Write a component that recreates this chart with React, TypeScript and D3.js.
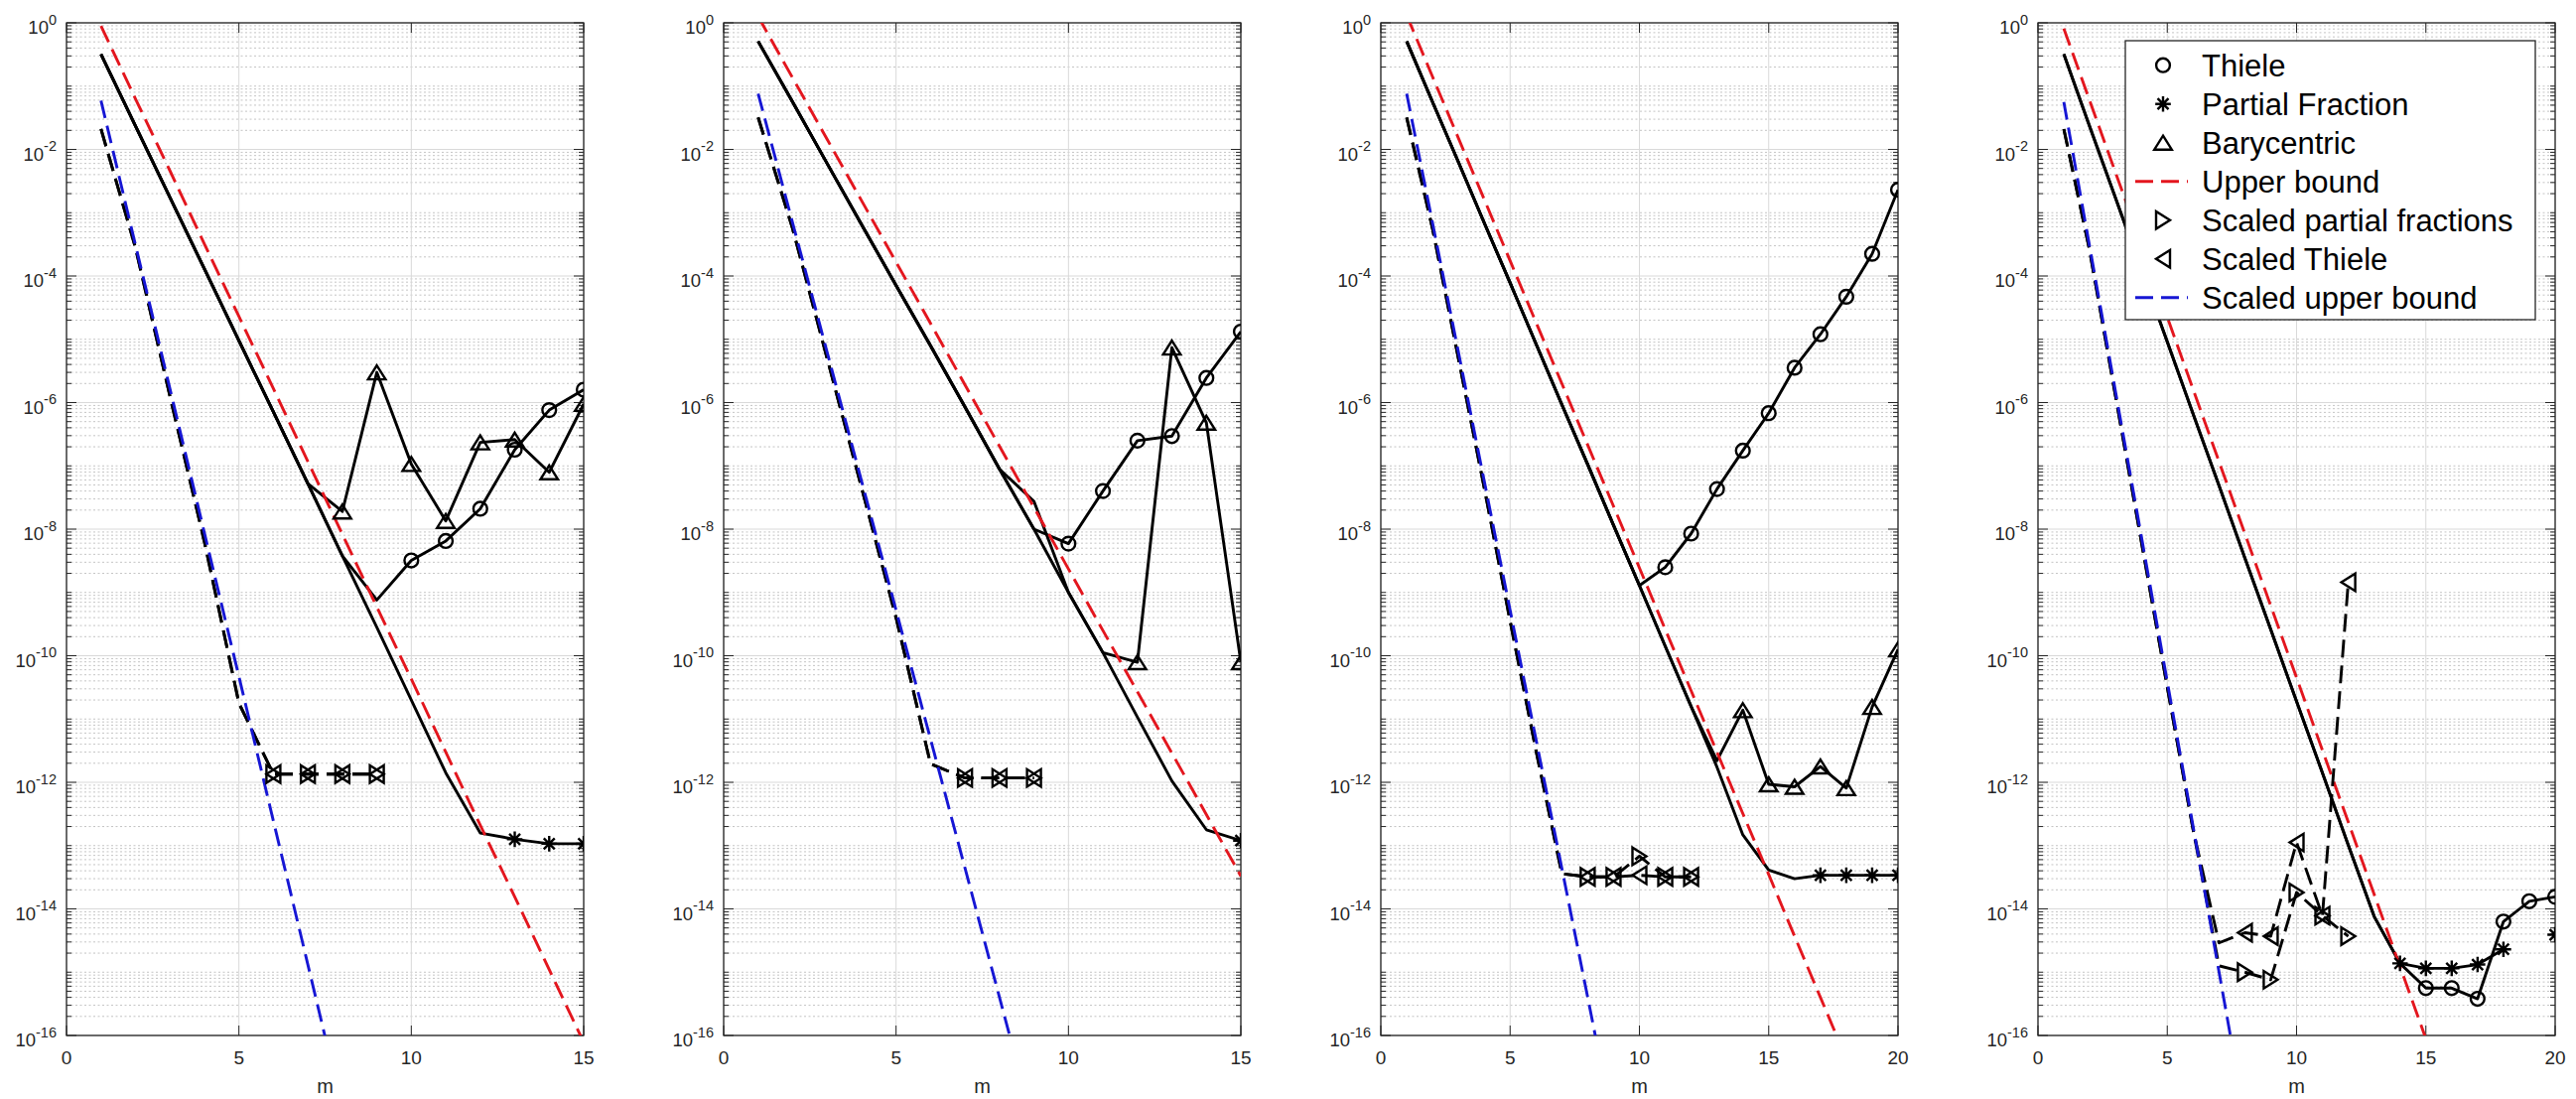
import { useEffect, useRef } from "react"
import * as d3 from "d3"

type Val = number | null

// Values; index k holds m = k + 1.
// Panel 1
const p1Partial: Val[] = [3.2e-1, 2.34e-2, 1.74e-3, 1.29e-4, 9.5e-6, 7.1e-7, 5.25e-8, 3.8e-9, 2.82e-10, 2.0e-11, 1.41e-12, 1.58e-13, 1.26e-13, 1.07e-13, 1.07e-13]
const p1Thiele: Val[] = [3.2e-1, 2.34e-2, 1.74e-3, 1.29e-4, 9.5e-6, 7.1e-7, 5.25e-8, 3.8e-9, 7.6e-10, 3.2e-9, 6.5e-9, 2.1e-8, 1.8e-7, 7.6e-7, 1.6e-6]
const p1Bary: Val[] = [3.2e-1, 2.34e-2, 1.74e-3, 1.29e-4, 9.5e-6, 7.1e-7, 5.25e-8, 1.9e-8, 3.0e-6, 1.07e-7, 1.35e-8, 2.35e-7, 2.6e-7, 7.9e-8, 9.5e-7]
const p1Upper: Val[] = [8.9e-1, 6.3e-2, 4.6e-3, 3.2e-4, 2.3e-5, 1.66e-6, 1.17e-7, 8.3e-9, 5.9e-10, 4.3e-11, 3.0e-12, 2.1e-13, 1.55e-14, 1.1e-15, 7.8e-17]
const p1ScaledPartial: Val[] = [2.1e-2, 2.8e-4, 1.26e-6, 6.3e-9, 1.78e-11, 1.35e-12, 1.35e-12, 1.35e-12, 1.35e-12]
const p1ScaledThiele: Val[] = [2.1e-2, 2.8e-4, 1.26e-6, 6.3e-9, 1.78e-11, 1.35e-12, 1.35e-12, 1.35e-12, 1.35e-12]
const p1ScaledUpper: Val[] = [5.9e-2, 3.1e-4, 1.66e-6, 8.7e-9, 4.7e-11, 2.45e-13, 1.32e-15, 6.9e-18]
const p1MarkFrom = [10, 13, 8, 6] // thiele, partial, bary, scaled

// Panel 2
const p2Partial: Val[] = [5.1e-1, 5.6e-2, 6.0e-3, 6.5e-4, 7.1e-5, 7.9e-6, 8.5e-7, 8.9e-8, 1.0e-8, 1.0e-9, 1.12e-10, 1.07e-11, 1.05e-12, 1.78e-13, 1.2e-13]
const p2Thiele: Val[] = [5.1e-1, 5.6e-2, 6.0e-3, 6.5e-4, 7.1e-5, 7.9e-6, 8.5e-7, 8.9e-8, 1.0e-8, 5.9e-9, 4.0e-8, 2.5e-7, 2.95e-7, 2.45e-6, 1.32e-5]
const p2Bary: Val[] = [5.1e-1, 5.6e-2, 6.0e-3, 6.5e-4, 7.1e-5, 7.9e-6, 8.5e-7, 8.9e-8, 2.75e-8, 1.0e-9, 1.12e-10, 7.9e-11, 7.4e-6, 4.8e-7, 7.9e-11]
const p2Upper: Val[] = [1.26, 1.35e-1, 1.45e-2, 1.55e-3, 1.66e-4, 1.78e-5, 1.9e-6, 2.04e-7, 2.2e-8, 2.35e-9, 2.5e-10, 2.7e-11, 2.9e-12, 3.1e-13, 3.3e-14]
const p2ScaledPartial: Val[] = [3.2e-2, 5.6e-4, 5.0e-6, 4.5e-8, 4.0e-10, 1.95e-12, 1.17e-12, 1.17e-12, 1.17e-12]
const p2ScaledThiele: Val[] = [3.2e-2, 5.6e-4, 5.0e-6, 4.5e-8, 4.0e-10, 1.95e-12, 1.17e-12, 1.17e-12, 1.17e-12]
const p2ScaledUpper: Val[] = [7.6e-2, 6.9e-4, 6.3e-6, 5.75e-8, 5.25e-10, 4.8e-12, 4.4e-14, 4.0e-16, 3.6e-18]
const p2MarkFrom = [10, 15, 12, 7]

// Panel 3
const p3Partial: Val[] = [5.1e-1, 5.6e-2, 6.3e-3, 6.9e-4, 7.8e-5, 8.5e-6, 9.3e-7, 1.05e-7, 1.15e-8, 1.29e-9, 1.41e-10, 1.58e-11, 1.74e-12, 1.48e-13, 4.1e-14, 3.0e-14, 3.4e-14, 3.4e-14, 3.4e-14, 3.4e-14]
const p3Thiele: Val[] = [5.1e-1, 5.6e-2, 6.3e-3, 6.9e-4, 7.8e-5, 8.5e-6, 9.3e-7, 1.05e-7, 1.15e-8, 1.29e-9, 2.5e-9, 8.5e-9, 4.3e-8, 1.74e-7, 6.8e-7, 3.55e-6, 1.2e-5, 4.7e-5, 2.24e-4, 2.3e-3]
const p3Bary: Val[] = [5.1e-1, 5.6e-2, 6.3e-3, 6.9e-4, 7.8e-5, 8.5e-6, 9.3e-7, 1.05e-7, 1.15e-8, 1.29e-9, 1.41e-10, 1.58e-11, 2.2e-12, 1.38e-11, 9.3e-13, 8.5e-13, 1.78e-12, 8.1e-13, 1.55e-11, 1.26e-10]
const p3Upper: Val[] = [1.32, 1.41e-1, 1.51e-2, 1.62e-3, 1.74e-4, 1.86e-5, 2.0e-6, 2.14e-7, 2.3e-8, 2.45e-9, 2.6e-10, 2.8e-11, 3.0e-12, 3.2e-13, 3.5e-14, 3.7e-15, 4.0e-16, 4.3e-17, 4.6e-18]
const p3ScaledPartial: Val[] = [3.2e-2, 5.6e-4, 5.0e-6, 4.5e-8, 3.55e-10, 3.2e-12, 3.6e-14, 3.2e-14, 3.2e-14, 6.8e-14, 3.2e-14, 3.2e-14]
const p3ScaledThiele: Val[] = [3.2e-2, 5.6e-4, 5.0e-6, 4.5e-8, 3.55e-10, 3.2e-12, 3.6e-14, 3.2e-14, 3.2e-14, 3.4e-14, 3.2e-14, 3.2e-14]
const p3ScaledUpper: Val[] = [7.6e-2, 6.9e-4, 6.3e-6, 5.75e-8, 5.25e-10, 4.8e-12, 4.4e-14, 4.0e-16, 3.6e-18]
const p3MarkFrom = [11, 17, 14, 8]

// Panel 4 (no barycentric run; partial fraction missing at m = 19)
const p4Partial: Val[] = [3.2e-1, 2.3e-2, 1.7e-3, 1.23e-4, 9.1e-6, 6.6e-7, 4.9e-8, 3.5e-9, 2.6e-10, 1.9e-11, 1.41e-12, 1.02e-13, 7.6e-15, 1.38e-15, 1.15e-15, 1.15e-15, 1.32e-15, 2.3e-15, null, 3.9e-15]
const p4Thiele: Val[] = [3.2e-1, 2.3e-2, 1.7e-3, 1.23e-4, 9.1e-6, 6.6e-7, 4.9e-8, 3.5e-9, 2.6e-10, 1.9e-11, 1.41e-12, 1.02e-13, 7.6e-15, 1.38e-15, 5.6e-16, 5.6e-16, 3.8e-16, 6.3e-15, 1.32e-14, 1.55e-14]
const p4Bary: Val[] = []
const p4Upper: Val[] = [8.1e-1, 5.9e-2, 4.3e-3, 3.1e-4, 2.24e-5, 1.62e-6, 1.17e-7, 8.5e-9, 6.2e-10, 4.5e-11, 3.2e-12, 2.35e-13, 1.7e-14, 1.23e-15, 8.9e-17, 6.5e-18]
const p4ScaledPartial: Val[] = [2.1e-2, 2.5e-4, 1.26e-6, 6.3e-9, 3.2e-11, 1.78e-13, 1.26e-15, 1.0e-15, 7.6e-16, 1.82e-14, 7.8e-15, 3.7e-15]
const p4ScaledThiele: Val[] = [2.1e-2, 2.5e-4, 1.26e-6, 6.3e-9, 3.2e-11, 1.78e-13, 2.9e-15, 4.2e-15, 3.7e-15, 1.12e-13, 7.8e-15, 1.45e-9]
const p4ScaledUpper: Val[] = [5.6e-2, 2.9e-4, 1.48e-6, 7.6e-9, 3.9e-11, 2.0e-13, 1.02e-15, 5.2e-18]
const p4MarkFrom = [15, 14, 99, 8]

const xTicks15 = [0, 5, 10, 15]
const xTicks20 = [0, 5, 10, 15, 20]
const legendLabels = ["Thiele", "Partial Fraction", "Barycentric", "Upper bound", "Scaled partial fractions", "Scaled Thiele", "Scaled upper bound"]

const panels = [
  { xMax: 15, xTicks: xTicks15, thiele: p1Thiele, partial: p1Partial, bary: p1Bary, upper: p1Upper, sPartial: p1ScaledPartial, sThiele: p1ScaledThiele, sUpper: p1ScaledUpper, from: p1MarkFrom },
  { xMax: 15, xTicks: xTicks15, thiele: p2Thiele, partial: p2Partial, bary: p2Bary, upper: p2Upper, sPartial: p2ScaledPartial, sThiele: p2ScaledThiele, sUpper: p2ScaledUpper, from: p2MarkFrom },
  { xMax: 20, xTicks: xTicks20, thiele: p3Thiele, partial: p3Partial, bary: p3Bary, upper: p3Upper, sPartial: p3ScaledPartial, sThiele: p3ScaledThiele, sUpper: p3ScaledUpper, from: p3MarkFrom },
  { xMax: 20, xTicks: xTicks20, thiele: p4Thiele, partial: p4Partial, bary: p4Bary, upper: p4Upper, sPartial: p4ScaledPartial, sThiele: p4ScaledThiele, sUpper: p4ScaledUpper, from: p4MarkFrom },
]

const W = 2595
const H = 1107
const LEFTS = [67, 729, 1391, 2053]
const PW = 521
const TOP = 23
const BOTTOM = 1043
const FONT = "'Liberation Sans', Arial, Helvetica, sans-serif"
const INK = "#262626"
const RED = "#e3161e"
const BLUE = "#1616d4"
const DASH = "18,8"
const LW = 2.9
const MW = 2.4

const shapes: Record<string, string> = {
  circle: "M6.9,0A6.9,6.9 0 1,1 -6.9,0A6.9,6.9 0 1,1 6.9,0Z",
  star: "M0,-7.8V7.8M-7.8,0H7.8M-5.5,-5.5L5.5,5.5M-5.5,5.5L5.5,-5.5",
  tri: "M0,-7L8.8,7L-8.8,7Z",
  right: "M7,0L-7,-8.8L-7,8.8Z",
  left: "M-7,0L7,-8.8L7,8.8Z",
}

type Sel = d3.Selection<any, unknown, null, undefined>

function isMajor(v: number) {
  const e = Math.log10(v)
  const r = Math.round(e)
  return Math.abs(e - r) < 1e-6 && r % 2 === 0
}

function drawPanel(svg: Sel, p: (typeof panels)[number], i: number) {
  const x0 = LEFTS[i]
  const x = d3.scaleLinear().domain([0, p.xMax]).range([x0, x0 + PW])
  const y = d3.scaleLog().domain([1e-16, 1]).range([BOTTOM, TOP])
  const g = svg.append("g")

  const all = y.ticks(20)
  const majors = all.filter(isMajor)
  const minors = all.filter((v) => !isMajor(v))

  // grid
  g.append("g")
    .selectAll("line")
    .data(minors)
    .join("line")
    .attr("x1", x0)
    .attr("x2", x0 + PW)
    .attr("y1", (d) => y(d))
    .attr("y2", (d) => y(d))
    .attr("stroke", "#c4c4c4")
    .attr("stroke-width", 1)
    .attr("stroke-dasharray", "2,2.5")
  g.append("g")
    .selectAll("line")
    .data(majors)
    .join("line")
    .attr("x1", x0)
    .attr("x2", x0 + PW)
    .attr("y1", (d) => y(d))
    .attr("y2", (d) => y(d))
    .attr("stroke", "#d9d9d9")
    .attr("stroke-width", 1)
  g.append("g")
    .selectAll("line")
    .data(p.xTicks)
    .join("line")
    .attr("x1", (d) => x(d))
    .attr("x2", (d) => x(d))
    .attr("y1", TOP)
    .attr("y2", BOTTOM)
    .attr("stroke", "#d9d9d9")
    .attr("stroke-width", 1)

  // ticks
  const yt = g.append("g").attr("stroke", INK).attr("stroke-width", 1)
  const yTicks = all.map((v) => ({ v, len: isMajor(v) ? 10 : 5 }))
  yt.selectAll(".tl")
    .data(yTicks)
    .join("line")
    .attr("x1", x0)
    .attr("x2", (d) => x0 + d.len)
    .attr("y1", (d) => y(d.v))
    .attr("y2", (d) => y(d.v))
  yt.selectAll(".tr")
    .data(yTicks)
    .join("line")
    .attr("x1", x0 + PW)
    .attr("x2", (d) => x0 + PW - d.len)
    .attr("y1", (d) => y(d.v))
    .attr("y2", (d) => y(d.v))
  yt.selectAll(".tb")
    .data(p.xTicks)
    .join("line")
    .attr("x1", (d) => x(d))
    .attr("x2", (d) => x(d))
    .attr("y1", BOTTOM)
    .attr("y2", BOTTOM - 10)
  yt.selectAll(".tt")
    .data(p.xTicks)
    .join("line")
    .attr("x1", (d) => x(d))
    .attr("x2", (d) => x(d))
    .attr("y1", TOP)
    .attr("y2", TOP + 10)

  // box
  g.append("rect")
    .attr("x", x0)
    .attr("y", TOP)
    .attr("width", PW)
    .attr("height", BOTTOM - TOP)
    .attr("fill", "none")
    .attr("stroke", INK)
    .attr("stroke-width", 1.3)

  // tick labels
  g.append("g")
    .selectAll("text")
    .data(majors)
    .join("text")
    .attr("x", x0 - 10)
    .attr("y", (d) => y(d) + 11)
    .attr("text-anchor", "end")
    .style("font-family", FONT)
    .style("font-size", "18.5px")
    .attr("fill", INK)
    .each(function (d) {
      const t = d3.select(this)
      t.append("tspan").text("10")
      t.append("tspan")
        .attr("dy", -9.5)
        .style("font-size", "14.5px")
        .text(String(Math.round(Math.log10(d))))
    })
  g.append("g")
    .selectAll("text")
    .data(p.xTicks)
    .join("text")
    .attr("x", (d) => x(d))
    .attr("y", 1072)
    .attr("text-anchor", "middle")
    .style("font-family", FONT)
    .style("font-size", "19px")
    .attr("fill", INK)
    .text((d) => String(d))
  g.append("text")
    .attr("x", x0 + PW / 2)
    .attr("y", 1101)
    .attr("text-anchor", "middle")
    .style("font-family", FONT)
    .style("font-size", "20px")
    .attr("fill", INK)
    .text("m")

  // data
  const clipId = `clip-${i}`
  svg
    .append("clipPath")
    .attr("id", clipId)
    .append("rect")
    .attr("x", x0)
    .attr("y", TOP)
    .attr("width", PW)
    .attr("height", BOTTOM - TOP)
  const data = g.append("g").attr("clip-path", `url(#${clipId})`)

  const pts = (arr: Val[]) => arr.map((v, k) => ({ m: k + 1, v }))
  const line = d3
    .line<{ m: number; v: Val }>()
    .defined((d) => d.v != null)
    .x((d) => x(d.m))
    .y((d) => y(d.v as number))

  const drawLine = (arr: Val[], color: string, dashed: boolean) => {
    if (!arr.length) return
    data
      .append("path")
      .attr("d", line(pts(arr)))
      .attr("fill", "none")
      .attr("stroke", color)
      .attr("stroke-width", LW)
      .attr("stroke-linejoin", "round")
      .attr("stroke-dasharray", dashed ? DASH : null)
  }
  const drawMarks = (arr: Val[], from: number, shape: string) => {
    data
      .append("g")
      .selectAll("path")
      .data(pts(arr).filter((d) => d.v != null && d.m >= from))
      .join("path")
      .attr("transform", (d) => `translate(${x(d.m)},${y(d.v as number)})`)
      .attr("d", shapes[shape])
      .attr("fill", "none")
      .attr("stroke", "#000")
      .attr("stroke-width", MW)
  }

  drawLine(p.thiele, "#000", false)
  drawLine(p.partial, "#000", false)
  drawLine(p.bary, "#000", false)
  drawLine(p.upper, RED, true)
  drawLine(p.sPartial, "#000", true)
  drawLine(p.sThiele, "#000", true)
  drawLine(p.sUpper, BLUE, true)

  drawMarks(p.thiele, p.from[0], "circle")
  drawMarks(p.partial, p.from[1], "star")
  drawMarks(p.bary, p.from[2], "tri")
  drawMarks(p.sPartial, p.from[3], "right")
  drawMarks(p.sThiele, p.from[3], "left")
}

function drawLegend(svg: Sel) {
  const lx = 2141
  const ly = 41
  const g = svg.append("g")
  g.append("rect")
    .attr("x", lx)
    .attr("y", ly)
    .attr("width", 413)
    .attr("height", 281)
    .attr("fill", "#fff")
    .attr("stroke", INK)
    .attr("stroke-width", 1.3)

  const kinds = ["circle", "star", "tri", "red", "right", "left", "blue"]
  const rows = g
    .selectAll("g")
    .data(legendLabels)
    .join("g")
    .attr("transform", (_, k) => `translate(0,${65.7 + 39 * k})`)

  rows.each(function (_, k) {
    const r = d3.select(this)
    const kind = kinds[k]
    if (kind === "red" || kind === "blue") {
      r.append("line")
        .attr("x1", 2151)
        .attr("x2", 2204)
        .attr("y1", 0)
        .attr("y2", 0)
        .attr("stroke", kind === "red" ? RED : BLUE)
        .attr("stroke-width", LW)
        .attr("stroke-dasharray", DASH)
    } else {
      r.append("path")
        .attr("transform", "translate(2179,0)")
        .attr("d", shapes[kind])
        .attr("fill", "none")
        .attr("stroke", "#000")
        .attr("stroke-width", MW)
    }
  })
  rows
    .append("text")
    .attr("x", 2218)
    .attr("y", 11)
    .style("font-family", FONT)
    .style("font-size", "31px")
    .attr("fill", "#000")
    .text((d) => d)
}

export default function App() {
  const svgRef = useRef<SVGSVGElement>(null)

  useEffect(() => {
    if (!svgRef.current) return
    const svg = d3.select(svgRef.current)
    svg.selectAll("*").remove()
    panels.forEach((p, i) => drawPanel(svg as Sel, p, i))
    drawLegend(svg as Sel)
  }, [])

  return (
    <div style={{ position: "absolute", left: 0, top: 0 }}>
      <svg ref={svgRef} width={W} height={H} style={{ display: "block", background: "#fff" }}></svg>
    </div>
  )
}
